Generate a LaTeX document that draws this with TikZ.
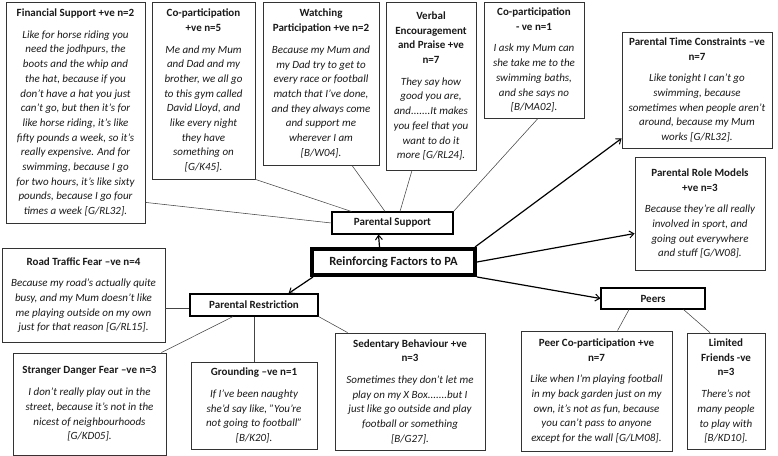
\documentclass[tikz,border=0pt]{standalone}
\usepackage{fontspec}
\setmainfont{Carlito}
\usetikzlibrary{arrows.meta}
\definecolor{boxc}{HTML}{333333}
\definecolor{txtc}{HTML}{1A1A1A}
\definecolor{linec}{HTML}{444444}
\newcommand{\boxtitle}[1]{\textbf{\upshape #1}}
\begin{document}
\begin{tikzpicture}[x=1bp,y=-1bp,
  qbox/.style={draw=boxc, line width=0.8pt, fill=white, text=txtc, align=center,
    inner sep=1pt, font=\fontsize{11bp}{14.7bp}\selectfont\itshape},
  cbox/.style={draw=black, line width=1.1pt, fill=white, text=txtc, align=center,
    inner sep=1pt, font=\fontsize{11bp}{13bp}\selectfont\bfseries},
  thin/.style={draw=linec, line width=0.55pt},
  arr/.style={draw=black, line width=1.2pt, -{Straight Barb[length=4.5pt,width=7pt,line width=1pt]}}
]
\useasboundingbox (0,0) rectangle (778,456);

% top row
\node[qbox, minimum width=139bp, minimum height=221bp] (fin) at (75.5,112.5)
 {\boxtitle{Financial Support +ve n=2}\\[7pt]
  Like for horse riding you\\ need the jodhpurs, the\\ boots and the whip and\\
  the hat, because if you\\ don’t have a hat you just\\ can’t go, but then it’s for\\
  like horse riding, it’s like\\ fifty pounds a week, so it’s\\ really expensive. And for\\
  swimming, because I go\\ for two hours, it’s like sixty\\ pounds, because I go four\\
  times a week [G/RL32].};

\node[qbox, minimum width=103bp, minimum height=177bp] (cop) at (203.5,90.5)
 {\boxtitle{Co-participation}\\ \boxtitle{+ve n=5}\\[7pt]
  Me and my Mum\\ and Dad and my\\ brother, we all go\\ to this gym called\\
  David Lloyd, and\\ like every night\\ they have\\ something on\\{}[G/K45].};

\node[qbox, minimum width=116bp, minimum height=163bp] (wat) at (321,83.5)
 {\boxtitle{Watching}\\ \boxtitle{Participation +ve n=2}\\[7pt]
  Because my Mum and\\ my Dad try to get to\\ every race or football\\
  match that I’ve done,\\ and they always come\\ and support me\\ wherever I am\\{}[B/W04].};

\node[qbox, minimum width=90bp, minimum height=168bp] (ver) at (431,86)
 {\boxtitle{Verbal}\\ \boxtitle{Encouragement}\\ \boxtitle{and Praise +ve}\\ \boxtitle{n=7}\\[7pt]
  They say how\\ good you are,\\ and.......It makes\\ you feel that you\\
  want to do it\\ more [G/RL24].};

\node[qbox, minimum width=100bp, minimum height=116bp] (con) at (534,60)
 {\boxtitle{Co-participation}\\ \boxtitle{- ve n=1}\\[7pt]
  I ask my Mum can\\ she take me to the\\ swimming baths,\\ and she says no\\{}[B/MA02].};

% right
\node[qbox, minimum width=150bp, minimum height=116bp] (ptc) at (697,90)
 {\boxtitle{Parental Time Constraints –ve}\\ \boxtitle{n=7}\\[7pt]
  Like tonight I can’t go\\ swimming, because\\ sometimes when people aren’t\\
  around, because my Mum\\ works [G/RL32].};

\node[qbox, minimum width=130bp, minimum height=113bp] (prm) at (700,213.5)
 {\boxtitle{Parental Role Models}\\ \boxtitle{+ve n=3}\\[7pt]
  Because they’re all really\\ involved in sport, and\\ going out everywhere\\ and stuff [G/W08].};

% centre
\node[cbox, minimum width=121bp, minimum height=22bp] (ps) at (392.5,223) {Parental Support};
\node[draw=black, line width=4pt, fill=white, text=txtc, inner sep=0pt,
  minimum width=163bp, minimum height=26bp, font=\fontsize{12.5bp}{14bp}\selectfont\bfseries]
  (rf) at (393.5,262) {Reinforcing Factors to PA};
\node[cbox, minimum width=128bp, minimum height=22bp] (pr) at (254,305) {Parental Restriction};
\node[cbox, minimum width=104bp, minimum height=21bp] (peers) at (653,298.5) {Peers};

% left / bottom
\node[qbox, minimum width=163bp, minimum height=94bp] (rtf) at (83.5,295)
 {\boxtitle{Road Traffic Fear –ve n=4}\\[7pt]
  Because my road’s actually quite\\ busy, and my Mum doesn’t like\\
  me playing outside on my own\\ just for that reason [G/RL15].};

\node[qbox, minimum width=153bp, minimum height=102bp] (sdf) at (89.5,404)
 {\boxtitle{Stranger Danger Fear –ve n=3}\\[7pt]
  I don’t really play out in the\\ street, because it’s not in the\\
  nicest of neighbourhoods\\{}[G/KD05].};

\node[qbox, minimum width=126bp, minimum height=87bp] (gr) at (254,405.5)
 {\boxtitle{Grounding –ve n=1}\\[7pt]
  If I’ve been naughty\\ she’d say like, "You’re\\ not going to football"\\{}[B/K20].};

\node[qbox, minimum width=150bp, minimum height=117bp] (sed) at (410,391.5)
 {\boxtitle{Sedentary Behaviour +ve}\\ \boxtitle{n=3}\\[7pt]
  Sometimes they don’t let me\\ play on my X Box.......but I\\
  just like go outside and play\\ football or something\\{}[B/G27].};

\node[qbox, minimum width=151bp, minimum height=120bp] (pcp) at (596.5,391)
 {\boxtitle{Peer Co-participation +ve}\\ \boxtitle{n=7}\\[7pt]
  Like when I’m playing football\\ in my back garden just on my\\
  own, it’s not as fun, because\\ you can’t pass to anyone\\ except for the wall [G/LM08].};

\node[qbox, minimum width=78bp, minimum height=116bp] (lf) at (726,391)
 {\boxtitle{Limited}\\ \boxtitle{Friends -ve}\\ \boxtitle{n=3}\\[7pt]
  There’s not\\ many people\\ to play with\\{}[B/KD10].};

% connectors: parental support
\draw[thin] ([yshift=21bp]fin.south east) -- (ps.west);
\draw[thin] (cop.south east) -- ([xshift=20bp]ps.north west);
\draw[thin] ([xshift=31bp]wat.south) -- ([xshift=-7.5bp]ps.north);
\draw[thin] ([xshift=-19bp]ver.south) -- ([xshift=7.5bp]ps.north);
\draw[thin] ([xshift=4bp]con.south) -- (ps.north east);

% arrows from reinforcing
\draw[arr] ([xshift=-14bp]rf.north) -- ([xshift=-14bp]ps.south);
\draw[arr] ([xshift=3bp]rf.south west) -- ([xshift=-30bp]pr.north east);
\draw[arr] (rf.south east) -- (peers.west);
\draw[arr] ([xshift=-2bp]rf.north east) -- ([yshift=10bp]ptc.south west);
\draw[arr] (rf.east) -- ([yshift=-20bp]prm.west);

% parental restriction
\draw[thin] ([yshift=-3bp]pr.west) -- ([yshift=-3bp]pr.west -| rtf.east);
\draw[thin] ([xshift=-21bp]pr.south) -- ([xshift=-5bp]sdf.north east);
\draw[thin] (pr.south) -- (gr.north);
\draw[thin] (pr.south east) -- ([xshift=13bp]sed.north west);

% peers
\draw[thin] ([xshift=-24bp]peers.south) -- ([xshift=21bp]pcp.north);
\draw[thin] ([xshift=-22bp]peers.south east) -- ([xshift=-16bp]lf.north);
\end{tikzpicture}
\end{document}
